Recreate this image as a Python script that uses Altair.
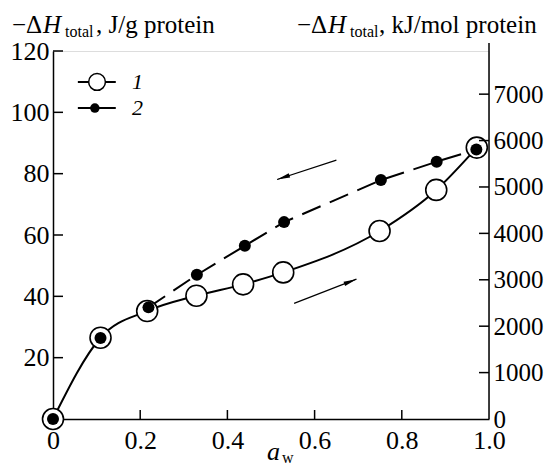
import altair as alt
import pandas as pd

# ---- data ----
aw1 = [0, 0.109, 0.216, 0.329, 0.436, 0.528, 0.749, 0.879, 0.972]
h1 = [0, 26.5, 35.2, 40.2, 43.9, 47.8, 61.3, 74.7, 88.5]
aw2 = [0, 0.109, 0.219, 0.330, 0.440, 0.530, 0.752, 0.880, 0.971]
h2 = [0, 26.4, 36.4, 47.0, 56.5, 64.2, 77.9, 83.9, 87.9]

x_ticks = [0, 0.2, 0.4, 0.6, 0.8, 1.0]
left_ticks = [20, 40, 60, 80, 100, 120]
right_ticks = [0, 1000, 2000, 3000, 4000, 5000, 6000, 7000]

# arrows (tail -> tip) in data units
arrow_x = [0.650, 0.553]
arrow_y = [84.4, 37.7]
arrow_x2 = [0.514, 0.696]
arrow_y2 = [78.1, 45.6]
arrow_angle = [251.7, 68.7]

# legend entries
leg_y = [109.9, 101.4]
leg_lab = ["1", "2"]

W, H = 436, 368
F = "Liberation Serif"
FS = 26
TS = 25

s1 = pd.DataFrame({"aw": aw1, "h": h1})
s2 = pd.DataFrame({"aw": aw2, "h": h2})
s2d = s2.iloc[2:]
arrows = pd.DataFrame({"x": arrow_x, "y": arrow_y, "x2": arrow_x2, "y2": arrow_y2, "a": arrow_angle})
one = pd.DataFrame({"k": [0]})

xs = alt.Scale(domain=[0, 1], nice=False, zero=False)
ysL = alt.Scale(domain=[0, 120], nice=False)
ysR = alt.Scale(domain=[0, 7930], nice=False)

xax = alt.Axis(values=x_ticks, ticks=False, tickSize=0, labelPadding=8, title=None,
               labelExpr="datum.value == 0 ? '0' : format(datum.value, '.1f')",
               domainColor="black", domainWidth=1.5, grid=False, labelFlush=False, orient="bottom")
yaxL = alt.Axis(values=left_ticks, ticks=False, tickSize=0, labelPadding=4, title=None,
                domainColor="black", domainWidth=1.5, grid=False, orient="left", format="d")
yaxR = alt.Axis(values=right_ticks, ticks=False, tickSize=0, labelPadding=4, title=None,
                domain=False, grid=False, orient="right", format="d", labelFontSize=25)


def X(f):
    return alt.X(f, scale=xs, axis=xax)


def Y(f):
    return alt.Y(f, scale=ysL, axis=yaxL)


solid = alt.Chart(s1).mark_line(interpolate="monotone", color="black", strokeWidth=2).encode(
    x=X("aw:Q"), y=Y("h:Q"))
dashed = alt.Chart(s2d).mark_line(color="black", strokeWidth=2, strokeDash=[20, 10]).encode(
    x=X("aw:Q"), y=Y("h:Q"))
circles = alt.Chart(s1).mark_point(shape="circle", size=441, filled=True, fill="white",
                                   stroke="black", strokeWidth=1.6, opacity=1).encode(
    x=X("aw:Q"), y=Y("h:Q"))
dots = alt.Chart(s2).mark_point(shape="circle", size=144, filled=True, color="black", opacity=1).encode(
    x=X("aw:Q"), y=Y("h:Q"))

# inward ticks
xt = alt.Chart(pd.DataFrame({"v": x_ticks[1:-1]})).mark_rule(color="black", strokeWidth=1.5).encode(
    x=X("v:Q"), y=alt.value(H), y2=alt.value(H - 9))
lt = alt.Chart(pd.DataFrame({"v": left_ticks})).mark_rule(color="black", strokeWidth=1.5).encode(
    y=Y("v:Q"), x=alt.value(0), x2=alt.value(10))

# arrows
shaft = alt.Chart(arrows).mark_rule(color="black", strokeWidth=1.2).encode(
    x=X("x:Q"), y=Y("y:Q"), x2="x2:Q", y2="y2:Q")
head = alt.Chart(arrows).mark_point(shape="M0,0L-0.35,2L0.35,2Z", size=169, filled=True,
                                    color="black", opacity=1).encode(
    x=X("x2:Q"), y=Y("y2:Q"), angle=alt.Angle("a:Q", scale=None))

# legend
leg = pd.DataFrame({"y": leg_y, "lab": leg_lab})
leg_line = alt.Chart(leg).mark_rule(color="black", strokeWidth=2).encode(
    y=Y("y:Q"), x=alt.value(0.057 * W), x2=alt.value(0.144 * W))
leg_c = alt.Chart(leg.iloc[:1]).mark_point(shape="circle", size=280, filled=True, fill="white",
                                           stroke="black", strokeWidth=1.5, opacity=1).encode(
    y=Y("y:Q"), x=alt.value(0.101 * W))
leg_d = alt.Chart(leg.iloc[1:]).mark_point(shape="circle", size=90, filled=True, color="black",
                                           opacity=1).encode(
    y=Y("y:Q"), x=alt.value(0.096 * W))
leg_t = alt.Chart(leg).mark_text(font=F, fontSize=22, fontStyle="italic", align="left",
                                 baseline="middle", color="black").encode(
    y=Y("y:Q"), x=alt.value(0.181 * W), text="lab:N")


def txt(s, x, y, size=TS, style="normal"):
    return alt.Chart(one).mark_text(text=s, font=F, fontSize=size, fontStyle=style, align="left",
                                    baseline="alphabetic", color="black").encode(
        x=alt.value(x), y=alt.value(y))


titles = [
    txt("\u2212\u0394", -41, -18), txt("H", -10, -18, style="italic"), txt("total", 12, -14, 16),
    txt(", J/g protein", 43, -18),
    txt("\u2212\u0394", 244, -18), txt("H", 275, -18, style="italic"), txt("total", 297, -14, 16),
    txt(", kJ/mol protein", 326, -18),
    txt("a", 214, 409, 26, style="italic"), txt("w", 229, 412, 16),
]

left = alt.layer(solid, dashed, circles, dots, xt, lt, shaft, head,
                 leg_line, leg_c, leg_d, leg_t, *titles)

rt = alt.Chart(pd.DataFrame({"v": right_ticks[1:]})).mark_rule(color="black", strokeWidth=1.5).encode(
    y=alt.Y("v:Q", scale=ysR, axis=yaxR), x=alt.value(W), x2=alt.value(W - 10))
rdom = alt.Chart(one).mark_rule(color="black", strokeWidth=1.5).encode(
    x=alt.value(W), y=alt.value(-8), y2=alt.value(H))
right = alt.layer(rt, rdom)

chart = alt.layer(left, right).resolve_scale(y="independent").properties(
    width=W, height=H,
    padding={"left": 45, "top": 43, "right": 55, "bottom": 46},
    autosize=alt.AutoSizeParams(type="none"),
).configure_view(stroke=None).configure(background="white").configure_axis(
    labelFont=F, labelFontSize=FS, labelColor="black")

chart.save("out.html", embed_options={"renderer": "svg", "actions": False})
